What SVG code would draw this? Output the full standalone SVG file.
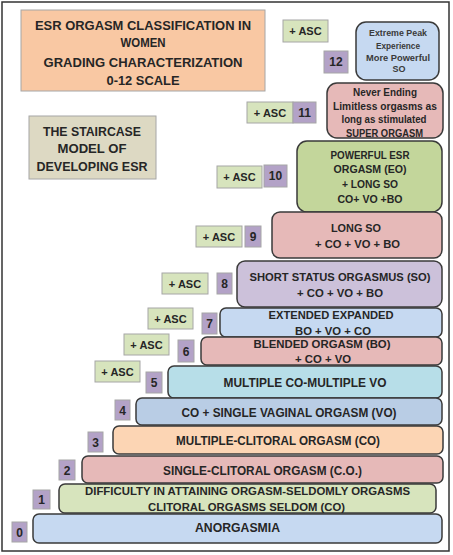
<svg xmlns="http://www.w3.org/2000/svg" width="453" height="555" viewBox="0 0 453 555">
<style>
text{font-family:"Liberation Sans",Arial,sans-serif;font-weight:bold;fill:#262626;text-anchor:middle}
.node{stroke:#3a3a3a;stroke-width:1.5}
.asc{fill:#d7e4bd;stroke:#a6a6a6;stroke-width:1}
.num{fill:#b3a2c7;stroke:#a6a6a6;stroke-width:1}
.t11{font-size:11px}
.t12{font-size:12px}
.t10{font-size:10px}
.t9{font-size:9px;fill:#3a3a3a}
.blue{fill:#c6d9f1}.pink{fill:#e6b9b8}.green{fill:#c3d69b}.lgreen{fill:#d7e4bd}
.lav{fill:#ccc1da}.teal{fill:#b7dee8}.blue2{fill:#b9cde5}.peach{fill:#fcd5b4}
</style>
<rect x="2" y="2" width="447" height="549" fill="#ffffff" stroke="#333333" stroke-width="1.5"/>
<g id="title">
<rect x="21" y="10" width="244" height="81" fill="#f9c8a3" stroke="#a6a6a6" stroke-width="1"/>
<text x="143" y="30" font-size="13" textLength="216" lengthAdjust="spacingAndGlyphs">ESR ORGASM CLASSIFICATION IN</text>
<text x="143" y="47" font-size="13" textLength="45" lengthAdjust="spacingAndGlyphs">WOMEN</text>
<text x="143" y="67" font-size="13" textLength="199" lengthAdjust="spacingAndGlyphs">GRADING CHARACTERIZATION</text>
<text x="143" y="85" font-size="13" textLength="73" lengthAdjust="spacingAndGlyphs">0-12 SCALE</text>
</g>
<g id="staircase-label">
<rect x="29" y="116" width="127" height="63" fill="#ddd9c3" stroke="#a6a6a6" stroke-width="1"/>
<text x="92" y="136" font-size="12.5" textLength="98" lengthAdjust="spacingAndGlyphs">THE STAIRCASE</text>
<text x="92" y="153" font-size="12.5" textLength="69" lengthAdjust="spacingAndGlyphs">MODEL OF</text>
<text x="92" y="171" font-size="12.5" textLength="111" lengthAdjust="spacingAndGlyphs">DEVELOPING ESR</text>
</g>
<g id="connectors"></g>
<g id="asc-12"><rect class="asc" x="283" y="20" width="45" height="22"/><text class="t11" x="305.5" y="35">+ ASC</text></g>
<g id="num-12"><rect class="num" x="324" y="51" width="24" height="22"/><text class="t12" x="336" y="66">12</text></g>
<g id="asc-11"><rect class="asc" x="247" y="102" width="46" height="21"/><text class="t11" x="270" y="116.5">+ ASC</text></g>
<g id="num-11"><rect class="num" x="293" y="102" width="23" height="21"/><text class="t12" x="304.5" y="117">11</text></g>
<g id="asc-10"><rect class="asc" x="217" y="166" width="45" height="22"/><text class="t11" x="239.5" y="181">+ ASC</text></g>
<g id="num-10"><rect class="num" x="264" y="165" width="23" height="22"/><text class="t12" x="275.5" y="180">10</text></g>
<g id="asc-9"><rect class="asc" x="196" y="226" width="46" height="21"/><text class="t11" x="219" y="240.5">+ ASC</text></g>
<g id="num-9"><rect class="num" x="245" y="226" width="16" height="21"/><text class="t12" x="253" y="241">9</text></g>
<g id="asc-8"><rect class="asc" x="162" y="273" width="46" height="21"/><text class="t11" x="185" y="287.5">+ ASC</text></g>
<g id="num-8"><rect class="num" x="217" y="273" width="15" height="21"/><text class="t12" x="224.5" y="288">8</text></g>
<g id="asc-7"><rect class="asc" x="148" y="308" width="45" height="21"/><text class="t11" x="170.5" y="322.5">+ ASC</text></g>
<g id="num-7"><rect class="num" x="202" y="313" width="15" height="21"/><text class="t12" x="209.5" y="328">7</text></g>
<g id="asc-6"><rect class="asc" x="124" y="334" width="45" height="21"/><text class="t11" x="146.5" y="348.5">+ ASC</text></g>
<g id="num-6"><rect class="num" x="178" y="340" width="16" height="22"/><text class="t12" x="186" y="355.5">6</text></g>
<g id="asc-5"><rect class="asc" x="95" y="361" width="45" height="21"/><text class="t11" x="117.5" y="375.5">+ ASC</text></g>
<g id="num-5"><rect class="num" x="146" y="372" width="16" height="21"/><text class="t12" x="154" y="387">5</text></g>
<g id="num-4"><rect class="num" x="115" y="400" width="15" height="20"/><text class="t12" x="122.5" y="414.5">4</text></g>
<g id="num-3"><rect class="num" x="88" y="432" width="15" height="20"/><text class="t12" x="95.5" y="446.5">3</text></g>
<g id="num-2"><rect class="num" x="59" y="460" width="16" height="20"/><text class="t12" x="67" y="474.5">2</text></g>
<g id="num-1"><rect class="num" x="33" y="490" width="17" height="19"/><text class="t12" x="41.5" y="504">1</text></g>
<g id="num-0"><rect class="num" x="12" y="522" width="15" height="20"/><text class="t12" x="19.5" y="536.5">0</text></g>
<g id="node-12">
<rect class="node blue" x="356" y="22" width="83" height="58" rx="10"/>
<text class="t9" x="398" y="36" textLength="58" lengthAdjust="spacingAndGlyphs">Extreme Peak</text>
<text class="t9" x="398" y="49" textLength="44" lengthAdjust="spacingAndGlyphs">Experience</text>
<text class="t9" x="398" y="61" textLength="64" lengthAdjust="spacingAndGlyphs">More Powerful</text>
<text class="t9" x="399" y="72">SO</text>
</g>
<g id="node-11">
<rect class="node pink" x="327" y="83" width="116" height="55" rx="10"/>
<text class="t10" x="385" y="95.5" textLength="64" lengthAdjust="spacingAndGlyphs">Never Ending</text>
<text class="t10" x="385" y="109.5" textLength="104" lengthAdjust="spacingAndGlyphs">Limitless orgasms as</text>
<text class="t10" x="384" y="122.5" textLength="85" lengthAdjust="spacingAndGlyphs">long as stimulated</text>
<text class="t10" x="384.5" y="136.5" textLength="77" lengthAdjust="spacingAndGlyphs">SUPER ORGASM</text>
</g>
<g id="node-10">
<rect class="node green" x="297" y="141" width="145" height="71" rx="10"/>
<text class="t10" x="370" y="158.5" textLength="79" lengthAdjust="spacingAndGlyphs">POWERFUL ESR</text>
<text class="t10" x="370" y="173" textLength="73" lengthAdjust="spacingAndGlyphs">ORGASM (EO)</text>
<text class="t10" x="370" y="187.5" textLength="56" lengthAdjust="spacingAndGlyphs">+ LONG SO</text>
<text class="t10" x="370" y="202.5" textLength="65" lengthAdjust="spacingAndGlyphs">CO+ VO +BO</text>
</g>
<g id="node-9">
<rect class="node pink" x="272" y="212" width="170" height="46" rx="8"/>
<text class="t11" x="356" y="232" textLength="50" lengthAdjust="spacingAndGlyphs">LONG SO</text>
<text class="t11" x="357.5" y="248" textLength="85" lengthAdjust="spacingAndGlyphs">+ CO + VO + BO</text>
</g>
<g id="node-8">
<rect class="node lav" x="237" y="261" width="205" height="46" rx="8"/>
<text class="t11" x="340" y="281" textLength="181" lengthAdjust="spacingAndGlyphs">SHORT STATUS ORGASMUS (SO)</text>
<text class="t11" x="340" y="297" textLength="86" lengthAdjust="spacingAndGlyphs">+ CO + VO + BO</text>
</g>
<g id="node-7">
<rect class="node blue" x="220" y="308" width="222" height="29" rx="6"/>
<text class="t11" x="331" y="319" textLength="125" lengthAdjust="spacingAndGlyphs">EXTENDED EXPANDED</text>
<text class="t11" x="333" y="335" textLength="76" lengthAdjust="spacingAndGlyphs">BO + VO + CO</text>
</g>
<g id="node-6">
<rect class="node pink" x="201" y="337" width="241" height="28" rx="6"/>
<text class="t11" x="322" y="348" textLength="137" lengthAdjust="spacingAndGlyphs">BLENDED ORGASM (BO)</text>
<text class="t11" x="323" y="363" textLength="56" lengthAdjust="spacingAndGlyphs">+ CO + VO</text>
</g>
<g id="node-5">
<rect class="node teal" x="168" y="366" width="274" height="32" rx="6"/>
<text class="t12" x="305" y="387" textLength="163" lengthAdjust="spacingAndGlyphs">MULTIPLE CO-MULTIPLE VO</text>
</g>
<g id="node-4">
<rect class="node blue2" x="136" y="398" width="306" height="27" rx="6"/>
<text class="t12" x="289" y="417" textLength="215" lengthAdjust="spacingAndGlyphs">CO + SINGLE VAGINAL ORGASM (VO)</text>
</g>
<g id="node-3">
<rect class="node peach" x="113" y="426" width="330" height="28" rx="6"/>
<text class="t12" x="278" y="445" textLength="204" lengthAdjust="spacingAndGlyphs">MULTIPLE-CLITORAL ORGASM (CO)</text>
</g>
<g id="node-2">
<rect class="node pink" x="82" y="456" width="361" height="27" rx="6"/>
<text class="t12" x="262.5" y="475" textLength="199" lengthAdjust="spacingAndGlyphs">SINGLE-CLITORAL ORGASM  (C.O.)</text>
</g>
<g id="node-1">
<rect class="node lgreen" x="59" y="484" width="377" height="29" rx="6"/>
<text class="t11" x="247.5" y="495" textLength="325" lengthAdjust="spacingAndGlyphs">DIFFICULTY IN ATTAINING ORGASM-SELDOMLY ORGASMS</text>
<text class="t11" x="246.5" y="511" textLength="197" lengthAdjust="spacingAndGlyphs">CLITORAL ORGASMS SELDOM (CO)</text>
</g>
<g id="node-0">
<rect class="node blue" x="33" y="514" width="409" height="29" rx="6"/>
<text class="t12" x="237.5" y="532" textLength="85" lengthAdjust="spacingAndGlyphs">ANORGASMIA</text>
</g>
</svg>
